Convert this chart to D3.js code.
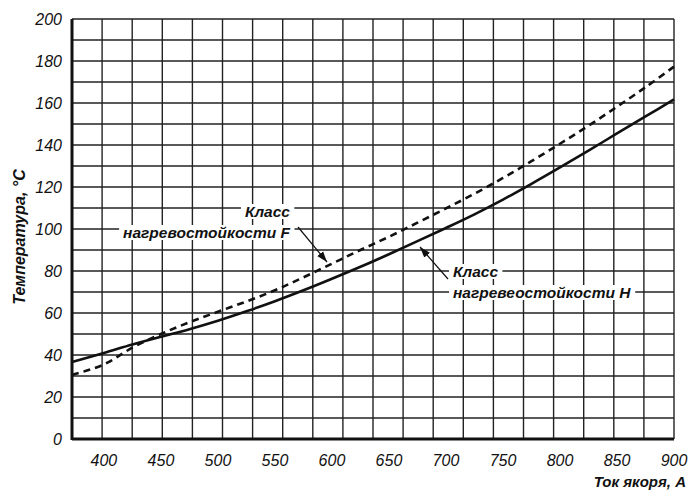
<!DOCTYPE html>
<html>
<head>
<meta charset="utf-8">
<script src="https://cdn.jsdelivr.net/npm/d3@7"></script>
<style>
  body { margin: 0; background: #fff; }
  text { font-family: "Liberation Sans", Arial, sans-serif; font-style: italic; fill: #111; }
</style>
</head>
<body>
<div id="chart"></div>
<script>
// data
const current = [372, 400, 425, 450, 475, 500, 525, 550, 575, 600, 625, 650, 675, 700, 725, 750, 775, 800, 825, 850, 875, 900];
const classH = [36.7, 41, 45, 48.7, 52.3, 56.3, 60.8, 65.6, 70.8, 76.3, 82, 88, 94.2, 100.5, 107, 114, 121.5, 129.3, 137.3, 145.5, 153.6, 161.7];
const classF = [30.5, 35.5, 43.5, 50, 55.6, 60.6, 65.5, 70.8, 77, 83.5, 90, 96.3, 103, 109.8, 116.8, 124.3, 132.3, 140.6, 149.2, 158.2, 167.5, 177.3];
const xTicks = [400, 450, 500, 550, 600, 650, 700, 750, 800, 850, 900];
const yTicks = [0, 20, 40, 60, 80, 100, 120, 140, 160, 180, 200];

const width = 691, height = 490;
const margin = { top: 19, right: 17, bottom: 51, left: 72 };

const svg = d3.select("#chart").append("svg")
  .attr("width", width)
  .attr("height", height);

const x = d3.scaleLinear().domain([372, 900]).range([margin.left, width - margin.right]);
const y = d3.scaleLinear().domain([0, 200]).range([height - margin.bottom, margin.top]);

// grid: 20 equal columns, rows every 10 degrees
const xd = x.domain();
const vGrid = d3.range(21).map(i => xd[0] + i * (xd[1] - xd[0]) / 20);
const hGrid = d3.range(0, 201, 10);

svg.append("g")
  .selectAll("line")
  .data(vGrid)
  .join("line")
  .attr("x1", d => x(d)).attr("x2", d => x(d))
  .attr("y1", y(0)).attr("y2", y(200))
  .attr("stroke", "#222")
  .attr("stroke-width", 1.4);

svg.append("g")
  .selectAll("line")
  .data(hGrid)
  .join("line")
  .attr("x1", x(xd[0])).attr("x2", x(xd[1]))
  .attr("y1", d => y(d)).attr("y2", d => y(d))
  .attr("stroke", "#222")
  .attr("stroke-width", 1.4);

// heavier axis lines
svg.append("line")
  .attr("x1", x(xd[0])).attr("x2", x(xd[0]))
  .attr("y1", y(0) + 1).attr("y2", y(200))
  .attr("stroke", "#111").attr("stroke-width", 3);
svg.append("line")
  .attr("x1", x(xd[0])).attr("x2", x(xd[1]))
  .attr("y1", y(0)).attr("y2", y(0))
  .attr("stroke", "#111").attr("stroke-width", 3);

// tick labels
svg.append("g")
  .selectAll("text")
  .data(xTicks)
  .join("text")
  .attr("x", d => x(d))
  .attr("y", 466)
  .attr("text-anchor", "middle")
  .style("font-size", "16px")
  .text(d => d);

svg.append("g")
  .selectAll("text")
  .data(yTicks)
  .join("text")
  .attr("x", 62)
  .attr("y", d => y(d) + 6)
  .attr("text-anchor", "end")
  .style("font-size", "16px")
  .text(d => d);

// axis titles
svg.append("text")
  .attr("transform", "translate(25,237) rotate(-90)")
  .attr("text-anchor", "middle")
  .style("font-size", "16px")
  .style("font-weight", "bold")
  .text("Температура, °C");

svg.append("text")
  .attr("x", 686)
  .attr("y", 487)
  .attr("text-anchor", "end")
  .style("font-size", "15px")
  .style("font-weight", "bold")
  .text("Ток якоря, А");

// curves
const line = d3.line()
  .x(d => x(d[0]))
  .y(d => y(d[1]))
  .curve(d3.curveCatmullRom);

svg.append("path")
  .datum(d3.zip(current, classH))
  .attr("d", line)
  .attr("fill", "none")
  .attr("stroke", "#111")
  .attr("stroke-width", 2.6);

svg.append("path")
  .datum(d3.zip(current, classF))
  .attr("d", line)
  .attr("fill", "none")
  .attr("stroke", "#111")
  .attr("stroke-width", 2.6)
  .attr("stroke-dasharray", "7,5");

// arrowhead
svg.append("defs").append("marker")
  .attr("id", "arrow")
  .attr("viewBox", "0 0 10 10")
  .attr("refX", 10).attr("refY", 5)
  .attr("markerWidth", 9).attr("markerHeight", 9)
  .attr("orient", "auto")
  .append("path")
  .attr("d", "M0,1.5 L10,5 L0,8.5 Z")
  .attr("fill", "#111");

// annotation labels with white knockout
function label(lines, anchor, tx, ty) {
  const g = svg.append("g");
  const texts = g.selectAll("text")
    .data(lines)
    .join("text")
    .attr("x", tx)
    .attr("y", (d, i) => ty + i * 21)
    .attr("text-anchor", anchor)
    .style("font-size", "15.5px")
    .style("font-weight", "bold")
    .text(d => d);
  texts.each(function () {
    const b = this.getBBox();
    g.insert("rect", "text")
      .attr("x", b.x - 4).attr("y", b.y + 1)
      .attr("width", b.width + 8).attr("height", b.height - 2)
      .attr("fill", "#fff");
  });
}

label(["Класс", "нагревостойкости F"], "end", 290, 217);
label(["Класс", "нагревеостойкости Н"], "start", 453, 277);

// leader lines
svg.append("line")
  .attr("x1", 298).attr("y1", 227)
  .attr("x2", 327).attr("y2", 262)
  .attr("stroke", "#111").attr("stroke-width", 1.2)
  .attr("marker-end", "url(#arrow)");

svg.append("line")
  .attr("x1", 448).attr("y1", 279)
  .attr("x2", 420).attr("y2", 247)
  .attr("stroke", "#111").attr("stroke-width", 1.2)
  .attr("marker-end", "url(#arrow)");
</script>
</body>
</html>
